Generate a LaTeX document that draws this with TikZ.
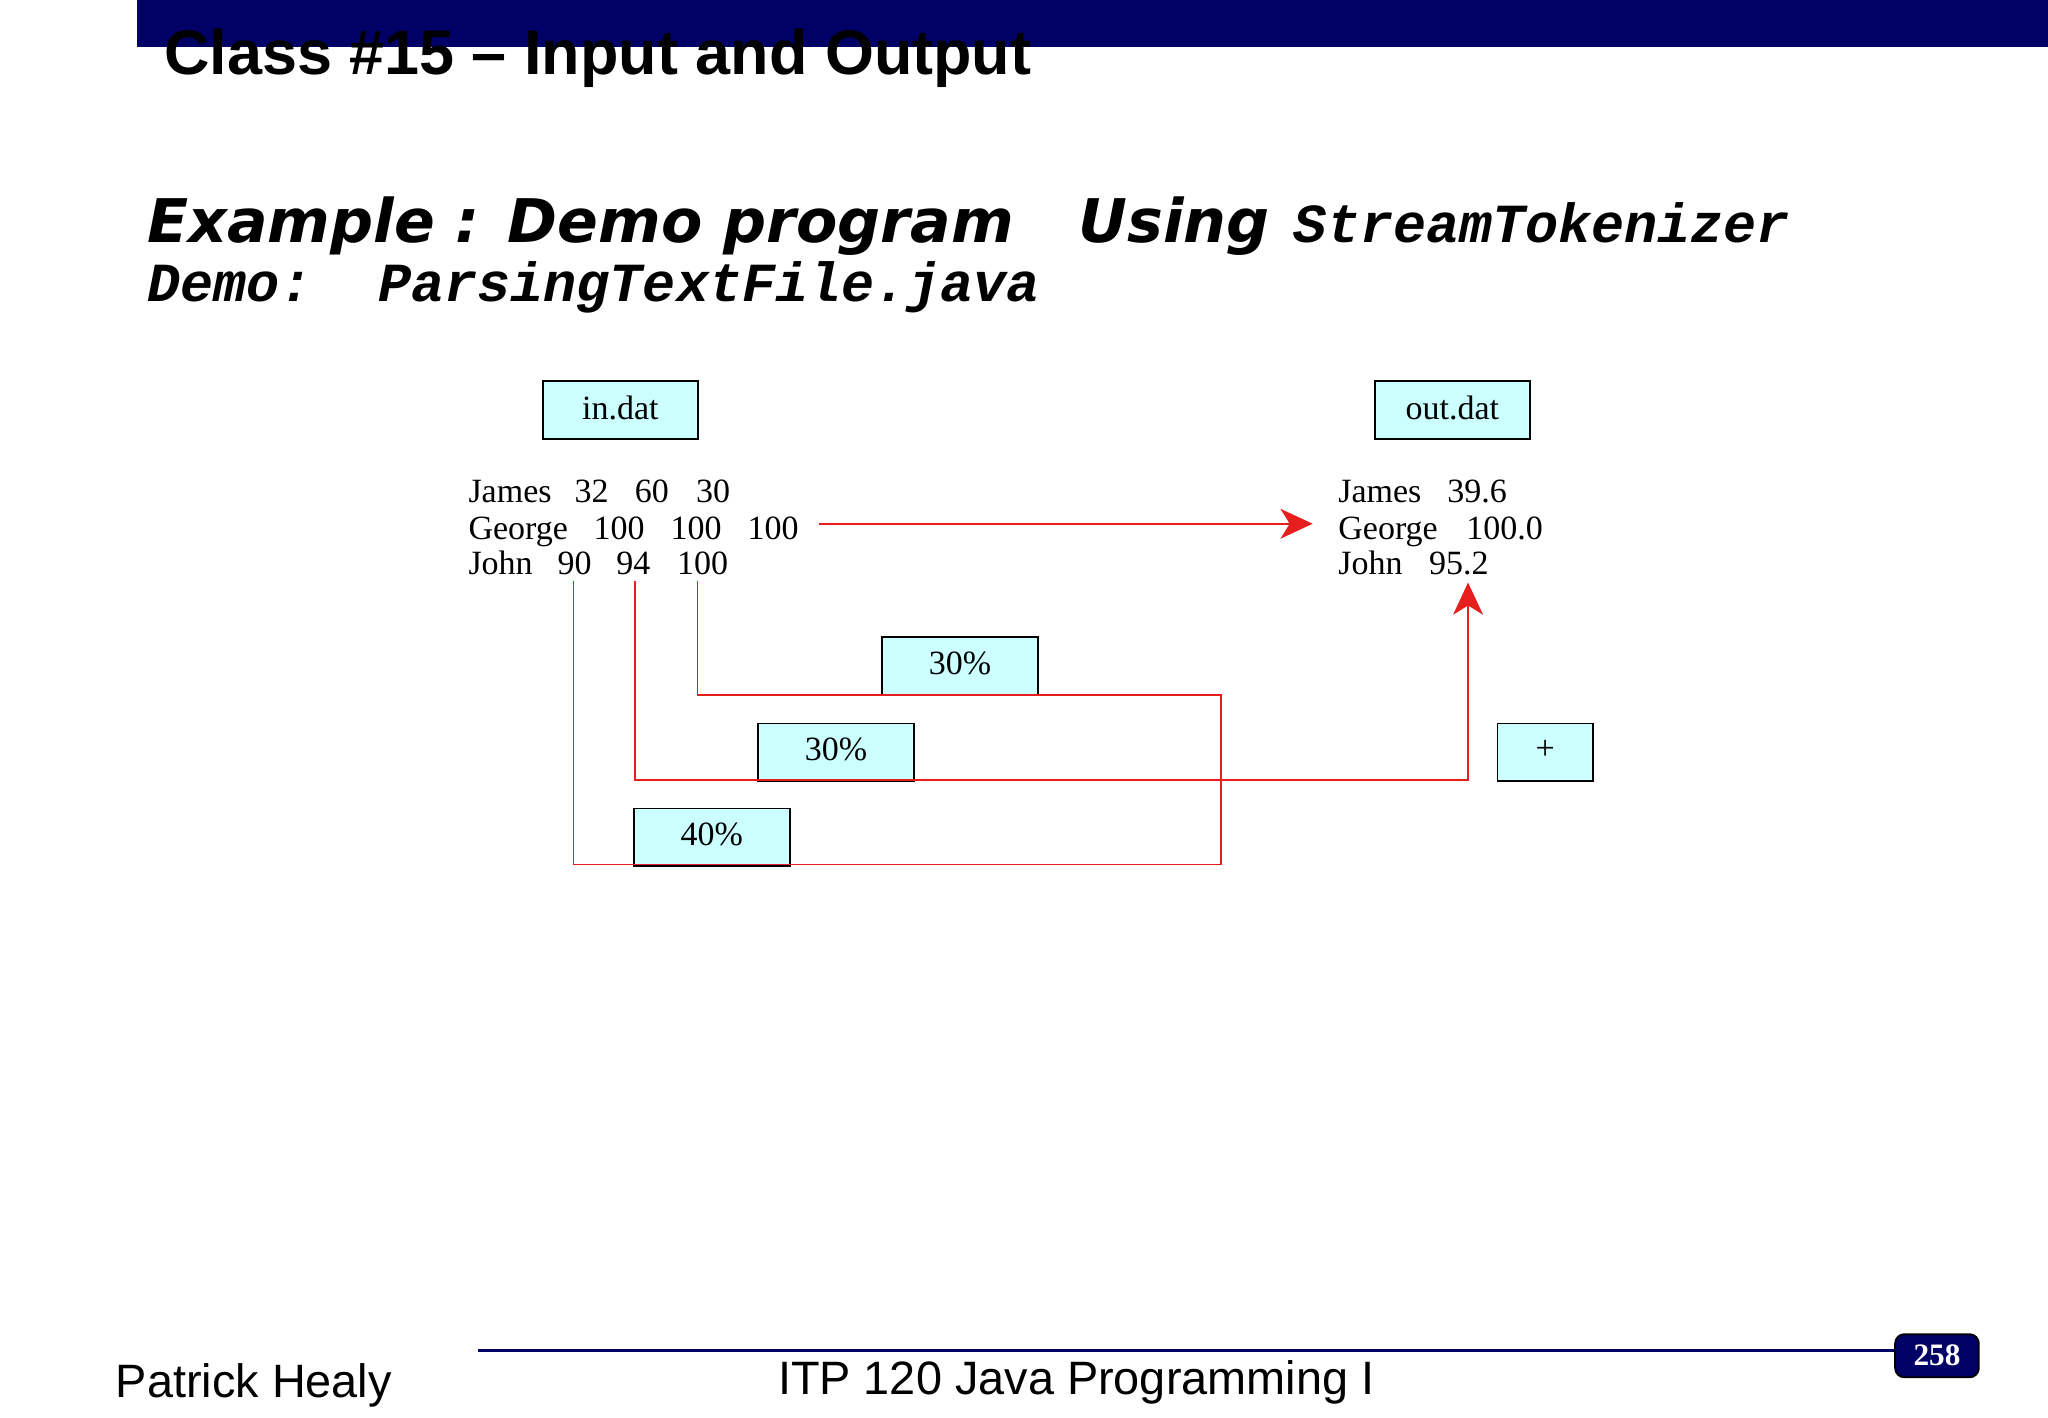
\documentclass[tikz,border=0pt]{standalone}
\usepackage{fontspec}
\setmainfont{Liberation Serif}
\newfontfamily\arialf{Liberation Sans}
\newfontfamily\headf{DejaVu Sans}
\newfontfamily\monof{Liberation Mono}
\usetikzlibrary{positioning,arrows.meta}
\definecolor{slidenavy}{RGB}{0,0,102}
\definecolor{boxcyan}{RGB}{204,255,255}
\definecolor{wirered}{RGB}{230,30,30}
\tikzset{
  filebox/.style={draw=black, fill=boxcyan, minimum width=1.19cm, minimum height=0.44cm, inner sep=0pt, font=\fontsize{7.4}{8}\selectfont},
  datatext/.style={anchor=base west, inner sep=0pt, font=\fontsize{7.4}{8}\selectfont},
  datanum/.style={anchor=base, inner sep=0pt, font=\fontsize{7.4}{8}\selectfont},
  wire/.style={wirered, line width=0.35pt},
  redtip/.style={-{Stealth[length=7pt,width=6.5pt,inset=2pt]}}
}
\begin{document}
\begin{tikzpicture}[x=0.01cm,y=-0.01cm]
\useasboundingbox (0,0) rectangle (1568,1085.6);
%titre
\fill[slidenavy] (105,0) rectangle (1568,36);
\node[anchor=base west, inner sep=0pt, font=\arialf\bfseries\fontsize{13.7}{14}\selectfont] (title) at (125,57) {Class \#15 – Input and Output};
\node[anchor=base west, inner sep=0pt, font=\headf\bfseries\itshape\fontsize{13.1}{14}\selectfont] (head) at (112,186) {Example : Demo program};
\node[anchor=base west, inner sep=0pt, font=\headf\bfseries\itshape\fontsize{13.1}{14}\selectfont] (using) at (825,186) {Using};
\node[anchor=base west, inner sep=0pt, font=\monof\bfseries\itshape\fontsize{12}{13}\selectfont] (tok) at (990,186) {StreamTokenizer};
\node[anchor=base west, inner sep=0pt, font=\monof\bfseries\itshape\fontsize{12}{13}\selectfont] (demo) at (112,231) {Demo:};
\node[anchor=base west, inner sep=0pt, font=\monof\bfseries\itshape\fontsize{12}{13}\selectfont] (demofile) at (289,231) {ParsingTextFile.java};
%fichiers
\node[filebox] (indat) at (475,314) {\raisebox{1.2pt}{in.dat}};
\node[filebox] (outdat) at (1112,314) {\raisebox{1.2pt}{out.dat}};
%donnees
\node[datatext] (james) at (358,385) {James};
\node[datanum] (a32) at (453,385) {32};
\node[datanum] (a60) at (499,385) {60};
\node[datanum] (a30) at (546,385) {30};
\node[datatext] (george) at (358,413) {George};
\node[datanum] (g1) at (474,413) {100};
\node[datanum] (g2) at (533,413) {100};
\node[datanum] (g3) at (592,413) {100};
\node[datatext] (john) at (358,440) {John};
\node[datanum] (j90) at (440,440) {90};
\node[datanum] (j94) at (485,440) {94};
\node[datanum] (j100) at (538,440) {100};
\node[datatext] (ojames) at (1024,385) {James};
\node[datanum] (o1) at (1131,385) {39.6};
\node[datatext] (ogeorge) at (1024,413) {George};
\node[datanum] (o2) at (1152,413) {100.0};
\node[datatext] (ojohn) at (1024,440) {John};
\node[datanum] (o3) at (1117,440) {95.2};
%poids
\node[filebox] (w30a) at (735,510) {\raisebox{1.2pt}{30\%}};
\node[filebox] (w30b) at (640,576) {\raisebox{1.2pt}{30\%}};
\node[filebox] (w40) at (545,641) {\raisebox{1.2pt}{40\%}};
\node[filebox, minimum width=0.73cm] (plus) at (1183,576) {\raisebox{1.2pt}{+}};
%fils
\coordinate (arr0) at (627,401);
\coordinate (arr1) at (1005,401);
\coordinate (w90) at (439,445);
\coordinate (w94) at (486,445);
\coordinate (w100) at (534,445);
\coordinate (sumtip) at (1124,446);
\draw[wire, redtip] (arr0) -- (arr1);
\draw[wire] (w100) |- (935,532) |- (439,662) -- (w90);
\draw[wire, redtip] (w94) |- (1124,597) -- (sumtip);
%pied
\draw[slidenavy, line width=0.8pt] (366,1034) -- (1452,1034);
\node[anchor=base west, inner sep=0pt, font=\arialf\fontsize{10.2}{12}\selectfont] (author) at (88,1070) {Patrick Healy};
\node[anchor=base west, inner sep=0pt, font=\arialf\fontsize{10.2}{12}\selectfont] (course) at (595,1068) {ITP 120 Java Programming I};
\node[fill=slidenavy, draw=black, rounded corners=2pt, minimum width=0.64cm, minimum height=0.33cm, inner sep=0pt, text=white, font=\bfseries\fontsize{6.8}{7}\selectfont] (page) at (1483,1038) {258};
\end{tikzpicture}
\end{document}
